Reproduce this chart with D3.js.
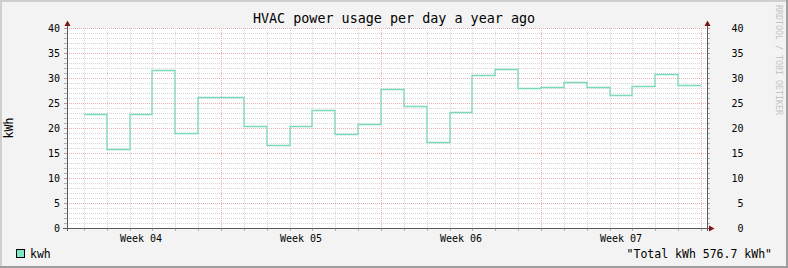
<!DOCTYPE html>
<html>
<head>
<meta charset="utf-8">
<script src="https://cdn.jsdelivr.net/npm/d3@7"></script>
<style>
body { margin: 0; background: #f3f3f3; }
svg text { font-family: "DejaVu Sans Mono", monospace; }
</style>
</head>
<body>
<div id="chart"></div>
<script>
// daily kWh, one value per day
var kwh = [22.8, 15.73, 22.8, 31.53, 19.0, 26.13, 26.13, 20.33, 16.53, 20.33, 23.53, 18.8, 20.8, 27.73,
	24.33, 17.13, 23.13, 30.53, 31.73, 27.93, 28.13, 29.13, 28.13, 26.67, 28.33, 30.73, 28.6]
var weekLabels = ["Week 04", "Week 05", "Week 06", "Week 07"]
var weekStarts = [-1, 6, 13, 20]
var yTicks = [0, 5, 10, 15, 20, 25, 30, 35, 40]
var title = "HVAC power usage per day a year ago"
var totalText = '"Total kWh 576.7 kWh"'

var W = 788, H = 268
var svg = d3.select("#chart").append("svg").attr("width", W).attr("height", H)

// background + 3d frame
svg.append("rect").attr("width", W).attr("height", H).attr("fill", "#f3f3f3")
svg.append("rect").attr("x", 0).attr("y", 0).attr("width", W).attr("height", 2).attr("fill", "#cfcfcf")
svg.append("rect").attr("x", 0).attr("y", 0).attr("width", 2).attr("height", H).attr("fill", "#cfcfcf")
svg.append("rect").attr("x", 0).attr("y", H - 2).attr("width", W).attr("height", 2).attr("fill", "#9e9e9e")
svg.append("rect").attr("x", W - 2).attr("y", 0).attr("width", 2).attr("height", H).attr("fill", "#9e9e9e")

var x = d3.scaleLinear().domain([-0.74, 27.26]).range([67, 707])
var y = d3.scaleLinear().domain([0, 40]).range([228, 28])

function px(v) { return Math.round(v) + 0.5 }

svg.append("rect").attr("x", 67).attr("y", 28).attr("width", 640).attr("height", 200).attr("fill", "#fff")

var grid = svg.append("g").attr("shape-rendering", "crispEdges")

// horizontal grid, every kWh, red every 5
var ySteps = d3.range(1, 41)
grid.selectAll("line.h").data(ySteps).enter().append("line")
	.attr("x1", 67).attr("x2", 707)
	.attr("y1", function(d){return px(y(d))})
	.attr("y2", function(d){return px(y(d))})
	.attr("stroke", function(d){return d % 5 == 0 ? "#eab0b0" : "#d6d6d6"})
	.attr("stroke-dasharray", "1,1")

// vertical grid, every day, red on week boundaries
var days = d3.range(0, 28)
grid.selectAll("line.v").data(days).enter().append("line")
	.attr("x1", function(d){return px(x(d))})
	.attr("x2", function(d){return px(x(d))})
	.attr("y1", 28).attr("y2", 228)
	.attr("stroke", function(d){return weekStarts.indexOf(d - 7) >= 0 || (d + 1) % 7 == 0 ? "#eab0b0" : "#d6d6d6"})
	.attr("stroke-dasharray", "1,1")

// small ticks on the axes
grid.selectAll("line.tl").data(ySteps).enter().append("line")
	.attr("x1", 64).attr("x2", 67)
	.attr("y1", function(d){return px(y(d))}).attr("y2", function(d){return px(y(d))})
	.attr("stroke", function(d){return d % 5 == 0 ? "#c89090" : "#b0b0b0"})
grid.selectAll("line.tr").data(ySteps).enter().append("line")
	.attr("x1", 707).attr("x2", 710)
	.attr("y1", function(d){return px(y(d))}).attr("y2", function(d){return px(y(d))})
	.attr("stroke", function(d){return d % 5 == 0 ? "#c89090" : "#b0b0b0"})
grid.selectAll("line.tb").data(days).enter().append("line")
	.attr("x1", function(d){return px(x(d))}).attr("x2", function(d){return px(x(d))})
	.attr("y1", 228).attr("y2", 231)
	.attr("stroke", "#b0b0b0")

// the data, drawn as steps
var pts = kwh.map(function(v, i){return [i, v]})
pts.push([kwh.length, kwh[kwh.length - 1]])
var line = d3.line()
	.x(function(d){return Math.round(x(d[0]))})
	.y(function(d){return px(y(d[1]))})
	.curve(d3.curveStepAfter)
svg.append("path").attr("d", line(pts))
	.attr("fill", "none")
	.attr("stroke", "#7ad8bb")
	.attr("stroke-width", 1.3)

// axes
var axisCol = "#5a5a5a", arrowCol = "#7f1515"
svg.append("line").attr("x1", 67.5).attr("x2", 67.5).attr("y1", 231).attr("y2", 25).attr("stroke", axisCol)
svg.append("line").attr("x1", 707.5).attr("x2", 707.5).attr("y1", 231).attr("y2", 25).attr("stroke", axisCol)
svg.append("line").attr("x1", 63).attr("x2", 711).attr("y1", 228.5).attr("y2", 228.5).attr("stroke", axisCol)
svg.append("path").attr("d", "M64.5,26L67.5,20.5L70.5,26Z").attr("fill", arrowCol)
svg.append("path").attr("d", "M704.5,26L707.5,20.5L710.5,26Z").attr("fill", arrowCol)
svg.append("path").attr("d", "M709,225.5L714.5,228.5L709,231.5Z").attr("fill", arrowCol)

// y labels both sides
svg.selectAll("text.yl").data(yTicks).enter().append("text")
	.attr("x", 60).attr("y", function(d){return y(d) + 3.5})
	.attr("text-anchor", "end").attr("font-size", "10px")
	.text(function(d){return d})
svg.selectAll("text.yr").data(yTicks).enter().append("text")
	.attr("x", 743.5).attr("y", function(d){return y(d) + 3.5})
	.attr("text-anchor", "end").attr("font-size", "10px")
	.text(function(d){return d})

// week labels
svg.selectAll("text.wk").data(weekLabels).enter().append("text")
	.attr("x", function(d, i){return x(weekStarts[i] + 3.5)})
	.attr("y", 241.5)
	.attr("text-anchor", "middle").attr("font-size", "10px")
	.text(function(d){return d})

// title and axis label
svg.append("text").attr("x", 394).attr("y", 23).attr("text-anchor", "middle")
	.attr("font-size", "13.4px").text(title)
svg.append("text").attr("transform", "translate(13,128) rotate(-90)")
	.attr("text-anchor", "middle").attr("font-size", "11.5px").text("kWh")

// watermark
svg.append("text").attr("transform", "translate(776,5) rotate(90)")
	.attr("font-size", "8.3px").attr("fill", "#c4c4c4").text("RRDTOOL / TOBI OETIKER")

// legend
svg.append("rect").attr("x", 16.5).attr("y", 249.5).attr("width", 8).attr("height", 8)
	.attr("fill", "#7ee5c6").attr("stroke", "#000")
svg.append("text").attr("x", 30).attr("y", 258).attr("font-size", "11.5px").text("kwh")
svg.append("text").attr("x", 772).attr("y", 258).attr("text-anchor", "end")
	.attr("font-size", "11.5px").text(totalText)
</script>
</body>
</html>
